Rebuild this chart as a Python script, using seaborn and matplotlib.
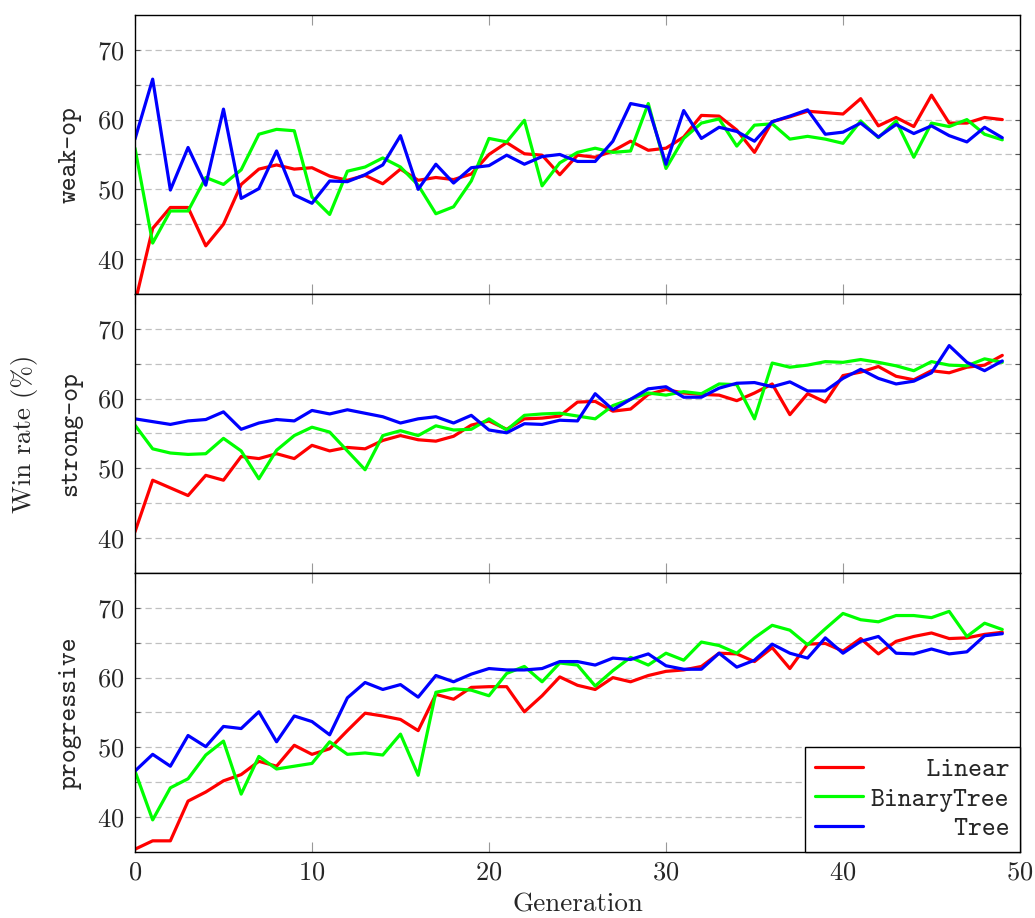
import matplotlib
matplotlib.use("Agg")
import numpy as np
import pandas as pd
import matplotlib.pyplot as plt
import seaborn as sns

# values
generations = list(range(50))
scenarios = ["weak-op", "strong-op", "progressive"]
methods = ["Linear", "BinaryTree", "Tree"]
colors = ["#ff0000", "#00ff00", "#0000ff"]

linear_weak = [33.7, 44.4, 47.4, 47.4, 41.9, 45.0, 50.7, 52.9, 53.5, 52.9,
               53.1, 51.9, 51.3, 52.0, 50.8, 52.9, 51.3, 51.7, 51.4, 52.2,
               55.0, 56.7, 55.1, 54.9, 52.1, 54.9, 54.6, 55.5, 56.9, 55.6,
               55.9, 57.5, 60.6, 60.5, 58.5, 55.3, 59.7, 60.4, 61.2, 61.0,
               60.8, 63.0, 59.1, 60.3, 59.0, 63.5, 59.5, 59.5, 60.3, 60.0]
binary_weak = [55.9, 42.3, 46.9, 46.9, 51.7, 50.7, 52.8, 57.9, 58.6, 58.4,
               48.9, 46.4, 52.6, 53.2, 54.5, 53.2, 50.6, 46.5, 47.5, 51.2,
               57.3, 56.8, 59.9, 50.5, 53.8, 55.3, 55.9, 55.3, 55.5, 62.3,
               53.0, 57.3, 59.5, 60.1, 56.2, 59.2, 59.4, 57.2, 57.6, 57.2,
               56.6, 59.8, 57.4, 59.8, 54.6, 59.5, 59.0, 60.0, 57.9, 57.1]
tree_weak = [57.2, 65.8, 49.9, 56.0, 50.6, 61.5, 48.7, 50.1, 55.5, 49.2,
             48.0, 51.2, 51.1, 52.1, 53.5, 57.7, 50.0, 53.6, 50.9, 53.1,
             53.4, 54.9, 53.6, 54.7, 55.0, 54.0, 54.0, 56.9, 62.3, 61.8,
             53.6, 61.3, 57.3, 58.9, 58.3, 56.9, 59.7, 60.5, 61.4, 57.9,
             58.2, 59.5, 57.5, 59.3, 58.0, 59.1, 57.7, 56.8, 58.9, 57.4]

linear_strong = [40.9, 48.3, 47.2, 46.1, 49.0, 48.3, 51.7, 51.4, 52.1, 51.4,
                 53.3, 52.5, 53.0, 52.8, 54.0, 54.7, 54.1, 53.9, 54.6, 56.2,
                 56.8, 55.6, 57.1, 57.2, 57.5, 59.5, 59.6, 58.2, 58.5, 60.6,
                 61.3, 60.8, 60.6, 60.5, 59.7, 60.8, 62.1, 57.7, 60.7, 59.5,
                 63.3, 63.8, 64.6, 63.2, 62.7, 64.0, 63.7, 64.5, 64.8, 66.2]
binary_strong = [56.2, 52.8, 52.2, 52.0, 52.1, 54.3, 52.5, 48.5, 52.6, 54.7,
                 55.9, 55.2, 52.5, 49.8, 54.7, 55.4, 54.7, 56.1, 55.5, 55.6,
                 57.1, 55.5, 57.6, 57.8, 57.9, 57.5, 57.1, 59.0, 59.9, 60.8,
                 60.5, 61.0, 60.7, 62.1, 62.0, 57.1, 65.1, 64.5, 64.8, 65.3,
                 65.2, 65.6, 65.2, 64.7, 64.0, 65.3, 64.8, 64.7, 65.7, 65.2]
tree_strong = [57.1, 56.7, 56.3, 56.8, 57.0, 58.1, 55.6, 56.5, 57.0, 56.8,
               58.3, 57.8, 58.4, 57.9, 57.4, 56.5, 57.1, 57.4, 56.5, 57.6,
               55.5, 55.1, 56.4, 56.3, 56.9, 56.8, 60.7, 58.4, 59.9, 61.4,
               61.7, 60.2, 60.2, 61.5, 62.2, 62.3, 61.7, 62.4, 61.1, 61.1,
               62.9, 64.2, 62.9, 62.1, 62.5, 63.7, 67.6, 65.2, 64.0, 65.4]

linear_prog = [35.4, 36.6, 36.6, 42.3, 43.6, 45.2, 46.1, 48.0, 47.3, 50.3,
               49.0, 49.8, 52.4, 54.9, 54.5, 54.0, 52.4, 57.6, 56.9, 58.6,
               58.7, 58.7, 55.1, 57.4, 60.1, 58.9, 58.3, 60.0, 59.4, 60.3,
               60.9, 61.1, 61.6, 63.5, 63.4, 62.3, 64.3, 61.3, 64.8, 64.9,
               63.8, 65.6, 63.4, 65.2, 65.9, 66.4, 65.6, 65.7, 66.2, 66.5]
binary_prog = [46.6, 39.6, 44.2, 45.5, 48.9, 50.9, 43.3, 48.7, 46.9, 47.3,
               47.7, 50.8, 49.0, 49.2, 48.9, 51.9, 46.0, 57.9, 58.4, 58.2,
               57.4, 60.6, 61.6, 59.4, 62.1, 61.8, 58.8, 61.0, 62.9, 61.8,
               63.5, 62.5, 65.1, 64.6, 63.5, 65.7, 67.5, 66.8, 64.7, 67.0,
               69.2, 68.3, 68.0, 68.9, 68.9, 68.6, 69.5, 65.9, 67.8, 66.9]
tree_prog = [46.6, 49.0, 47.3, 51.7, 50.1, 53.0, 52.7, 55.1, 50.8, 54.5,
             53.7, 51.8, 57.1, 59.3, 58.3, 59.0, 57.2, 60.3, 59.4, 60.5,
             61.3, 61.1, 61.1, 61.3, 62.3, 62.3, 61.8, 62.8, 62.6, 63.4,
             61.7, 61.2, 61.2, 63.5, 61.5, 62.5, 64.8, 63.5, 62.8, 65.7,
             63.5, 65.2, 65.9, 63.5, 63.4, 64.1, 63.4, 63.7, 66.0, 66.3]

series = {
    "weak-op": [linear_weak, binary_weak, tree_weak],
    "strong-op": [linear_strong, binary_strong, tree_strong],
    "progressive": [linear_prog, binary_prog, tree_prog],
}

rows = []
for scen in scenarios:
    for m, vals in zip(methods, series[scen]):
        for g, v in zip(generations, vals):
            rows.append((scen, m, g, v))
df = pd.DataFrame(rows, columns=["Scenario", "Method", "Generation", "Win rate"])

sns.set_style("ticks")
plt.rcParams["font.family"] = ["cmr10", "DejaVu Serif"]
plt.rcParams["mathtext.fontset"] = "cm"
plt.rcParams["axes.formatter.use_mathtext"] = True

fig, axes = plt.subplots(3, 1, figsize=(10.35, 9.18), dpi=100, sharex=True)
fig.subplots_adjust(left=0.1304, right=0.9855, top=0.9837, bottom=0.0719, hspace=0)

palette = dict(zip(methods, colors))
for ax, scen in zip(axes, scenarios):
    sns.lineplot(data=df[df["Scenario"] == scen], x="Generation", y="Win rate",
                 hue="Method", hue_order=methods, palette=palette, lw=2.3,
                 errorbar=None, ax=ax, legend=(scen == "progressive"))
    ax.set_xlim(0, 50)
    ax.set_ylim(35, 75)
    ax.set_xticks(range(0, 51, 10))
    ax.set_yticks([40, 50, 60, 70])
    ax.set_yticks([45, 55, 65], minor=True)
    ax.grid(axis="y", which="both", ls=(0, (5, 3)), color="#c0c0c0", lw=0.9)
    ax.set_axisbelow(True)
    ax.tick_params(axis="both", which="both", direction="in", top=True, right=True,
                   labelsize=19)
    ax.tick_params(axis="y", which="both", length=3.8, width=0.8, color="#555555", pad=7.5)
    ax.tick_params(axis="x", length=7.5, width=0.8, color="#999999", pad=6)
    for sp in ax.spines.values():
        sp.set_linewidth(1.0)
        sp.set_color("black")
    ax.set_ylabel(scen, family="cmtt10", fontsize=19)
    ax.yaxis.set_label_coords(-0.060, 0.5)
    ax.set_xlabel("")

ax = axes[-1]
ax.set_xlabel("Generation", fontsize=19.5, labelpad=6.5)
handles, labels = ax.get_legend_handles_labels()
width = max(len(l) for l in labels)
leg = ax.legend(handles, [l.rjust(width) for l in labels],
                prop={"family": "cmtt10", "size": 19}, loc="lower right",
                borderaxespad=0, fancybox=False, edgecolor="black", framealpha=1,
                handlelength=1.8, handletextpad=0.3, labelspacing=0.2,
                borderpad=0.4)
leg.get_frame().set_linewidth(1.0)

fig.text(25 / 1035, 0.527, "Win rate (%)", rotation=90, ha="center", va="center",
         fontsize=19.5)

fig.savefig("out.png", dpi=100)
